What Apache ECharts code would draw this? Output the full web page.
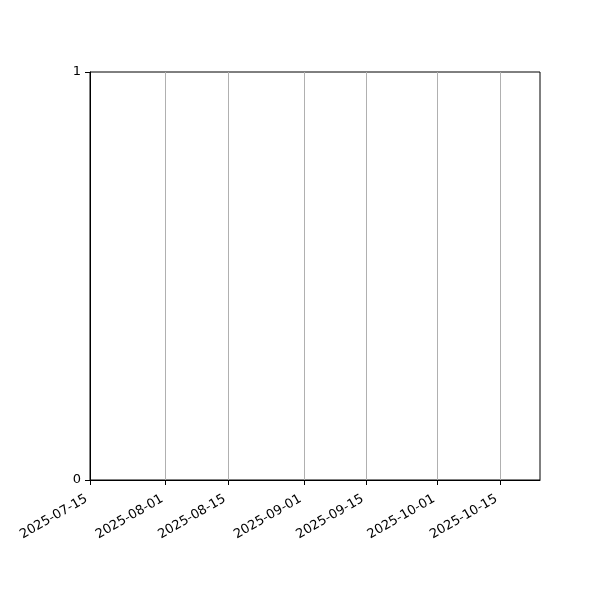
<!DOCTYPE html>
<html>
<head>
<meta charset="utf-8">
<script src="https://cdn.jsdelivr.net/npm/echarts@6/dist/echarts.min.js"></script>
<style>
html,body{margin:0;padding:0;background:#fff;}
#chart{width:600px;height:600px;}
</style>
</head>
<body>
<div id="chart"></div>
<script>
const xRange = ['2025-07-15', '2025-10-24'];
const xTickLabels = ['2025-07-15', '2025-08-01', '2025-08-15', '2025-09-01', '2025-09-15', '2025-10-01', '2025-10-15'];
const yTickLabels = [0, 1];
const seriesDates = [];
const seriesValues = [];

function toMs(s) { return Date.UTC(+s.slice(0, 4), +s.slice(5, 7) - 1, +s.slice(8, 10)); }
function fmt(v) {
  const d = new Date(v);
  const p = n => String(n).padStart(2, '0');
  return d.getUTCFullYear() + '-' + p(d.getUTCMonth() + 1) + '-' + p(d.getUTCDate());
}
const tickMs = xTickLabels.map(toMs);
const data = seriesDates.map((d, i) => [toMs(d), seriesValues[i]]);

const chart = echarts.init(document.getElementById('chart'), null, {renderer: 'canvas'});
const font = 'DejaVu Sans';
chart.setOption({
  animation: false,
  backgroundColor: '#ffffff',
  grid: {left: 90, right: 60, top: 72, bottom: 120, show: true, borderColor: '#000', borderWidth: 1, backgroundColor: 'transparent'},
  xAxis: {
    type: 'value',
    min: toMs(xRange[0]),
    max: toMs(xRange[1]),
    axisLine: {show: true, onZero: false, lineStyle: {color: '#000', width: 1}},
    axisTick: {show: true, inside: false, length: 5, lineStyle: {color: '#000', width: 1}, customValues: tickMs},
    axisLabel: {
      show: true, rotate: 30, margin: 16, color: '#000', fontFamily: font, fontSize: 13,
      padding: [0, 4, 0, 0],
      customValues: tickMs,
      formatter: v => fmt(v),
      hideOverlap: false, showMinLabel: true, showMaxLabel: true
    },
    splitLine: {show: true, lineStyle: {color: '#b0b0b0', width: 1}}
  },
  yAxis: {
    type: 'value',
    min: yTickLabels[0],
    max: yTickLabels[yTickLabels.length - 1],
    interval: 1,
    axisLine: {show: true, lineStyle: {color: '#000', width: 1}},
    axisTick: {show: true, inside: false, length: 5, lineStyle: {color: '#000', width: 1}},
    axisLabel: {color: '#000', fontFamily: font, fontSize: 13, margin: 9, verticalAlign: 'middle', padding: [4, 0, 0, 0]},
    splitLine: {show: false}
  },
  series: [{type: 'line', data: data, showSymbol: false}]
});
</script>
</body>
</html>
